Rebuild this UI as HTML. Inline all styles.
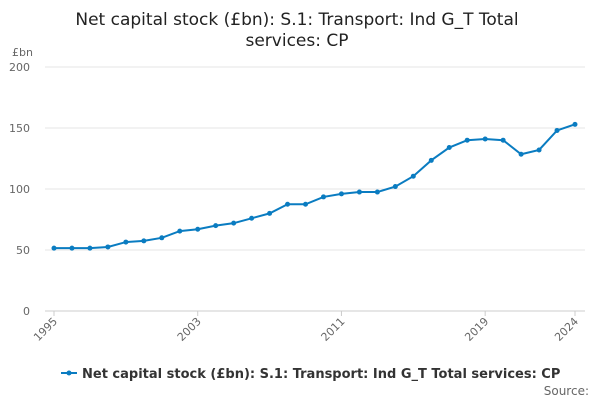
<!DOCTYPE html>
<html><head><meta charset="utf-8">
<style>
body{margin:0;background:#fff;width:600px;height:400px;overflow:hidden;font-family:"DejaVu Sans","Liberation Sans",sans-serif;}
</style></head>
<body>
<svg id="chart" width="600" height="400">
<text x="297" y="25" text-anchor="middle" font-size="17" fill="#222">Net capital stock (£bn): S.1: Transport: Ind G_T Total</text>
<text x="297" y="46" text-anchor="middle" font-size="17" fill="#222">services: CP</text>
<text x="12" y="56" font-size="11" fill="#666">£bn</text>
<g id="grid"></g><g id="xaxis"></g><g id="series"></g>
<g>
<line x1="61" y1="373" x2="77" y2="373" stroke="#0a7cc1" stroke-width="2"/>
<circle cx="69" cy="373" r="2.5" fill="#0a7cc1"/>
<text x="82" y="378" font-size="13" font-weight="bold" fill="#333">Net capital stock (£bn): S.1: Transport: Ind G_T Total services: CP</text>
</g>
<text x="589" y="395" text-anchor="end" font-size="12" fill="#666">Source:</text>
</svg>
<script>
const years=[1995,1996,1997,1998,1999,2000,2001,2002,2003,2004,2005,2006,2007,2008,2009,2010,2011,2012,2013,2014,2015,2016,2017,2018,2019,2020,2021,2022,2023,2024];
const values=[51.5,51.5,51.5,52.5,56.5,57.5,60,65.5,67,70,72,76,80,87.5,87.5,93.5,96,97.5,97.5,102,110.5,123.5,134,140,141,140,128.5,132,148,153];
const yTicks=[0,50,100,150,200];
const xTicks=[1995,2003,2011,2019,2024];
const NS="http://www.w3.org/2000/svg";
const X=y=>54+(y-1995)*(575-54)/29;
const Y=v=>311-v*(311-67)/200;
function mk(t,a,p){const e=document.createElementNS(NS,t);for(const k in a)e.setAttribute(k,a[k]);p.appendChild(e);return e;}
const g=document.getElementById('grid');
yTicks.forEach(v=>{
const l=mk('line',{x1:45,x2:585,y1:Y(v),y2:Y(v),stroke:v===0?'#ccc':'#e6e6e6'},g);


const t=mk('text',{x:30,y:Y(v)+4,'text-anchor':'end','font-size':11,fill:'#666'},g);
t.textContent=v;


});
const xa=document.getElementById('xaxis');
xTicks.forEach(y=>{
const tk=mk('line',{x1:X(y),x2:X(y),y1:311,y2:316,stroke:'#ccc'},xa);


const t=mk('text',{x:X(y)+4,y:322,'text-anchor':'end','font-size':11,fill:'#666',transform:`rotate(-45 ${X(y)+4} 322)`},xa);
t.textContent=y;


});
const s=document.getElementById('series');
const p=mk('polyline',{points:years.map((y,i)=>X(y)+','+Y(values[i])).join(' '),fill:'none',stroke:'#0a7cc1','stroke-width':2},s);


years.forEach((y,i)=>{
const c=mk('circle',{cx:X(y),cy:Y(values[i]),r:2.5,fill:'#0a7cc1'},s);


});
</script>
</body></html>
